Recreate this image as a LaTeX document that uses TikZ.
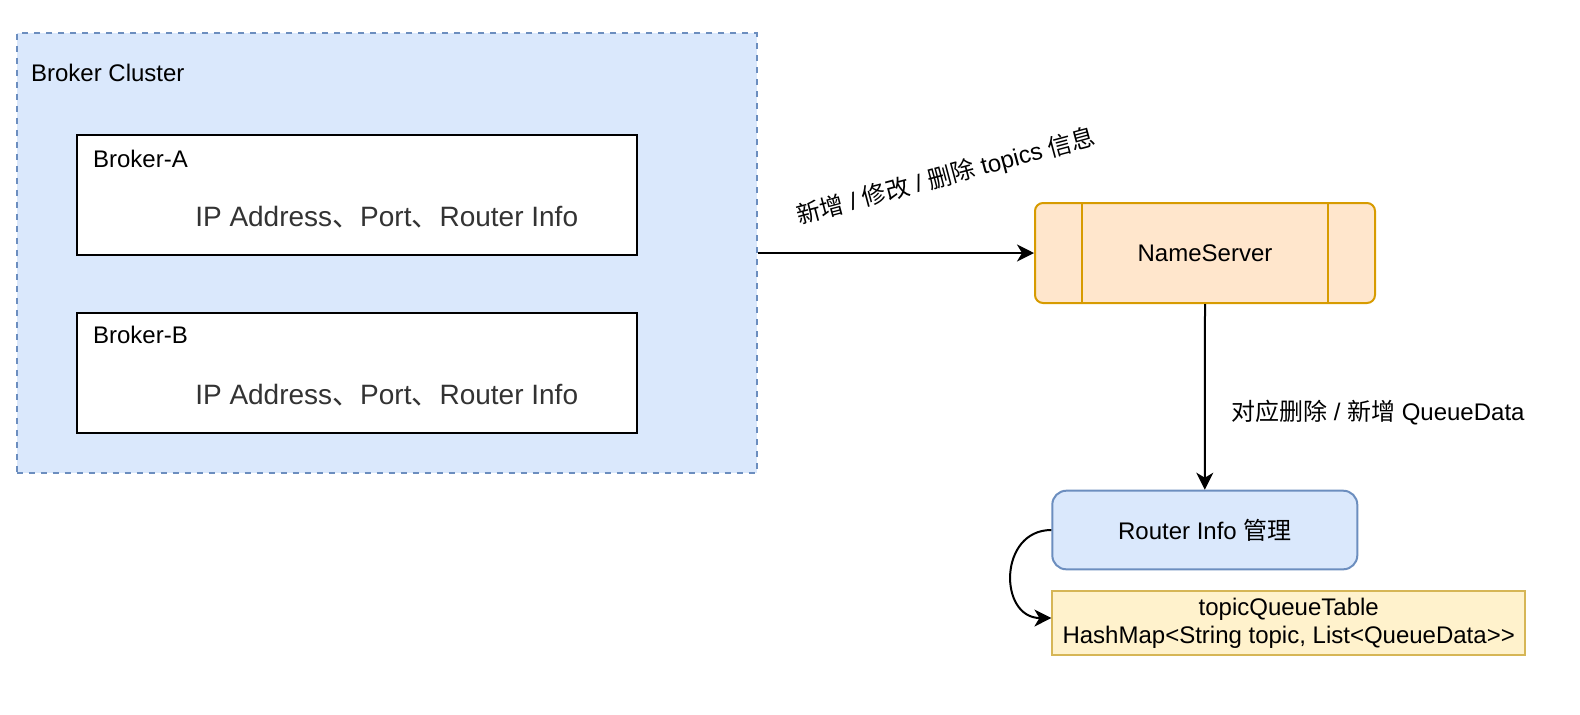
\documentclass[tikz,border=0pt]{standalone}
\usepackage{fontspec}
\setmainfont{Liberation Sans}
\newfontfamily\cjk{Noto Sans CJK SC}
\usepackage{tikz}
\usetikzlibrary{arrows.meta, positioning, calc}
\usepackage{xcolor}
\definecolor{clusterfill}{RGB}{218, 232, 252}
\definecolor{clusterline}{RGB}{108, 142, 191}
\definecolor{serverfill}{RGB}{255, 230, 204}
\definecolor{serverline}{RGB}{215, 155, 0}
\definecolor{tablefill}{RGB}{255, 242, 204}
\definecolor{tableline}{RGB}{214, 182, 86}
\newcommand{\zh}[1]{{\cjk #1}}
\tikzset{
  brokerbox/.style={draw=black, fill=white, line width=1pt, inner sep=0pt,
    minimum width=280.3pt, minimum height=60pt},
  flow/.style={-{Stealth[length=8.5pt, width=8.5pt, inset=2.5pt]}, line width=1pt},
  txt/.style={font=\fontsize{12}{13.8}\selectfont, inner sep=0pt},
  infotxt/.style={font=\fontsize{14}{16}\selectfont, inner sep=0pt,
    text=black!80, anchor=base}
}

\begin{document}
\begin{tikzpicture}[x=0.5pt, y=-0.5pt]
    \useasboundingbox (0,0) rectangle (1580,714);
    % broker cluster
    \node[draw=clusterline, fill=clusterfill, dash pattern=on 3pt off 3pt,
          line width=1pt, inner sep=0pt, minimum width=370pt,
          minimum height=219.7pt] (cluster) at (386.7,253) {};
    \node[txt, anchor=base west] (clusterlbl) at (30.7,81.7) {Broker Cluster};
    \node[brokerbox] (brokerA) at (357,195) {};
    \node[txt, anchor=base west] (brokerAlbl) at (92.7,167) {Broker-A};
    \node[infotxt] (brokerAinfo) at (386.7,226) {IP Address\zh{、}Port\zh{、}Router Info};
    \node[brokerbox] (brokerB) at (357,372.7) {};
    \node[txt, anchor=base west] (brokerBlbl) at (92.7,343) {Broker-B};
    \node[infotxt] (brokerBinfo) at (386.7,404) {IP Address\zh{、}Port\zh{、}Router Info};

    % name server
    \node[draw=serverline, fill=serverfill, rounded corners=4pt, line width=1pt,
          inner sep=0pt, minimum width=170pt, minimum height=50pt,
          txt] (ns) at (1205,253) {NameServer};
    \draw[serverline, line width=1pt] ([xshift=24pt]ns.north west) -- ([xshift=24pt]ns.south west);
    \draw[serverline, line width=1pt] ([xshift=-24pt]ns.north east) -- ([xshift=-24pt]ns.south east);

    % router info + table
    \node[draw=clusterline, fill=clusterfill, rounded corners=7pt, line width=1pt,
          inner sep=0pt, minimum width=152.5pt, minimum height=39.3pt,
          txt] (router) at (1204.8,530) {Router Info \zh{管理}};
    \node[draw=tableline, fill=tablefill, line width=1pt, inner sep=0pt,
          minimum width=236.3pt, minimum height=32pt, align=center,
          txt] (table) at (1288.7,623)
      {topicQueueTable\\HashMap<String topic, List<QueueData>{}>};

    \draw[flow] (cluster.east) -- (ns.west);
    \node[txt, rotate=15] (addlbl) at (946,177)
      {\zh{新增} / \zh{修改} / \zh{删除} topics \zh{信息}};
    \draw[flow] (ns.south) -- (router.north);
    \node[txt, anchor=base west] (queuelbl) at (1230.7,420)
      {\zh{对应删除} / \zh{新增} QueueData};
    \draw[flow] (router.west) .. controls +(-53,0) and +(-53,0) .. ([yshift=2.5pt]table.west);
\end{tikzpicture}
\end{document}
